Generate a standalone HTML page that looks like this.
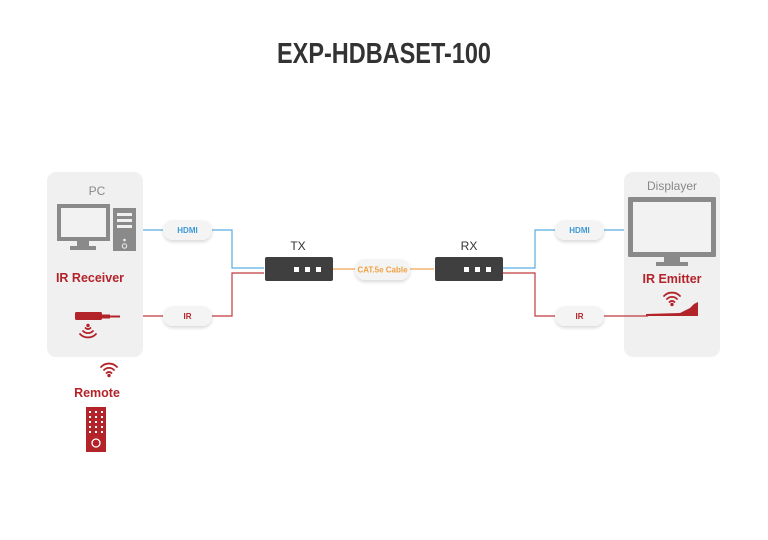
<!DOCTYPE html>
<html><head><meta charset="utf-8"><style>
html,body{margin:0;padding:0;background:#fff;}
svg{display:block;font-family:"Liberation Sans",sans-serif;}
</style></head><body>
<svg width="768" height="540" viewBox="0 0 768 540">
<defs>
<filter id="sh" x="-20%" y="-30%" width="140%" height="190%"><feDropShadow dx="0" dy="2" stdDeviation="1.5" flood-color="#000" flood-opacity="0.15"/></filter>
<g id="wifi" fill="none" stroke="#b3232a" stroke-width="1.8" stroke-linecap="round">
<path d="M-8,-3 A11,11 0 0 1 8,-3"/><path d="M-5,0 A7,7 0 0 1 5,0"/><path d="M-2.5,3 A3.5,3.5 0 0 1 2.5,3"/><circle cx="0" cy="5.5" r="0.8" fill="#b3232a"/>
</g>
</defs>
<text x="384" y="63" text-anchor="middle" font-size="29" font-weight="bold" fill="#333" textLength="214" lengthAdjust="spacingAndGlyphs">EXP-HDBASET-100</text>

<!-- panels -->
<rect x="47" y="172" width="96" height="185" rx="9" fill="#f0f0f0"/>
<rect x="624" y="172" width="96" height="185" rx="9" fill="#f0f0f0"/>
<text x="97" y="195" text-anchor="middle" font-size="12" fill="#888">PC</text>
<text x="672" y="190" text-anchor="middle" font-size="12" fill="#888">Displayer</text>

<!-- PC -->
<rect x="57" y="204" width="53" height="37" fill="#8a8a8a"/>
<rect x="61" y="208" width="45" height="29" fill="#f2f2f2"/>
<rect x="77" y="241" width="12" height="5" fill="#8a8a8a"/>
<rect x="70" y="246" width="26" height="4" fill="#8a8a8a"/>
<rect x="113" y="208" width="23" height="43" fill="#8a8a8a"/>
<rect x="117" y="213" width="15" height="3" fill="#f0f0f0"/>
<rect x="117" y="219" width="15" height="3" fill="#f0f0f0"/>
<rect x="117" y="225" width="15" height="3" fill="#f0f0f0"/>
<circle cx="124.5" cy="240" r="1.3" fill="#f0f0f0"/>
<circle cx="124.5" cy="246" r="2.2" fill="none" stroke="#f0f0f0" stroke-width="1"/>

<text x="90" y="282" text-anchor="middle" font-size="12.5" font-weight="bold" fill="#b3232a">IR Receiver</text>
<rect x="75" y="312" width="27" height="8" rx="1.5" fill="#b3232a"/>
<rect x="102" y="314.5" width="8" height="4" fill="#b3232a"/>
<rect x="110" y="315.5" width="10" height="2" fill="#b3232a"/>
<g transform="translate(88,331) rotate(180)"><use href="#wifi"/></g>

<use href="#wifi" transform="translate(109,370)"/>
<text x="97" y="397" text-anchor="middle" font-size="12.5" font-weight="bold" fill="#b3232a">Remote</text>
<rect x="86" y="407" width="20" height="45" fill="#b3232a"/>
<g fill="#fff">
<rect x="89" y="411" width="2" height="2"/><rect x="95" y="411" width="2" height="2"/><rect x="101" y="411" width="2" height="2"/>
<rect x="89" y="416" width="2" height="2"/><rect x="95" y="416" width="2" height="2"/><rect x="101" y="416" width="2" height="2"/>
<rect x="89" y="421" width="2" height="2"/><rect x="95" y="421" width="2" height="2"/><rect x="101" y="421" width="2" height="2"/>
<rect x="89" y="426" width="2" height="2"/><rect x="95" y="426" width="2" height="2"/><rect x="101" y="426" width="2" height="2"/>
<rect x="89" y="431" width="2" height="2"/><rect x="95" y="431" width="2" height="2"/><rect x="101" y="431" width="2" height="2"/>
</g>
<circle cx="96" cy="443" r="4" fill="none" stroke="#fff" stroke-width="1.3"/>

<!-- Display -->
<rect x="628" y="197" width="88" height="60" rx="1" fill="#8a8a8a"/>
<rect x="633" y="202" width="78" height="50" fill="#f2f2f2"/>
<rect x="664" y="257" width="16" height="5" fill="#8a8a8a"/>
<rect x="656" y="262" width="32" height="4" fill="#8a8a8a"/>
<text x="672" y="283" text-anchor="middle" font-size="12.5" font-weight="bold" fill="#b3232a">IR Emitter</text>
<use href="#wifi" transform="translate(672,299)"/>
<path d="M646,316 L646,314 L680,313 L690,308 L694,304 L698,302 L698,316 Z" fill="#b3232a"/>

<!-- lines -->
<g fill="none" stroke-width="1.2">
<path d="M143,230 H165 M210,230 H232 V268 H264" stroke="#5aaee0"/>
<path d="M143,316 H165 M210,316 H232 V273 H264" stroke="#c0393f"/>
<path d="M333,269 H356 M409,269 H434" stroke="#f3a350"/>
<path d="M503,268 H535 V230 H557 M602,230 H624" stroke="#5aaee0"/>
<path d="M503,273 H535 V316 H557 M602,316 H648" stroke="#c0393f"/>
</g>

<!-- pills -->
<g filter="url(#sh)" fill="#f4f4f4">
<rect x="163" y="220" width="49" height="20" rx="10"/>
<rect x="163" y="306" width="49" height="20" rx="10"/>
<rect x="555" y="220" width="49" height="20" rx="10"/>
<rect x="555" y="306" width="49" height="20" rx="10"/>
<rect x="355" y="259" width="55" height="21" rx="10"/>
</g>
<g font-size="8" font-weight="bold" text-anchor="middle">
<text x="187.5" y="233" fill="#3d9ad6">HDMI</text>
<text x="187.5" y="319" fill="#b3232a">IR</text>
<text x="579.5" y="233" fill="#3d9ad6">HDMI</text>
<text x="579.5" y="319" fill="#b3232a">IR</text>
<text x="382.5" y="272.5" fill="#f0a040">CAT.5e Cable</text>
</g>

<!-- TX RX -->
<text x="298" y="250" text-anchor="middle" font-size="12" fill="#333">TX</text>
<text x="469" y="250" text-anchor="middle" font-size="12" fill="#333">RX</text>
<rect x="265" y="257" width="68" height="24" rx="2" fill="#3f3f3f"/>
<rect x="435" y="257" width="68" height="24" rx="2" fill="#3f3f3f"/>
<g fill="#fff">
<rect x="294" y="267" width="5" height="5"/><rect x="305" y="267" width="5" height="5"/><rect x="316" y="267" width="5" height="5"/>
<rect x="464" y="267" width="5" height="5"/><rect x="475" y="267" width="5" height="5"/><rect x="486" y="267" width="5" height="5"/>
</g>
</svg>
</body></html>
